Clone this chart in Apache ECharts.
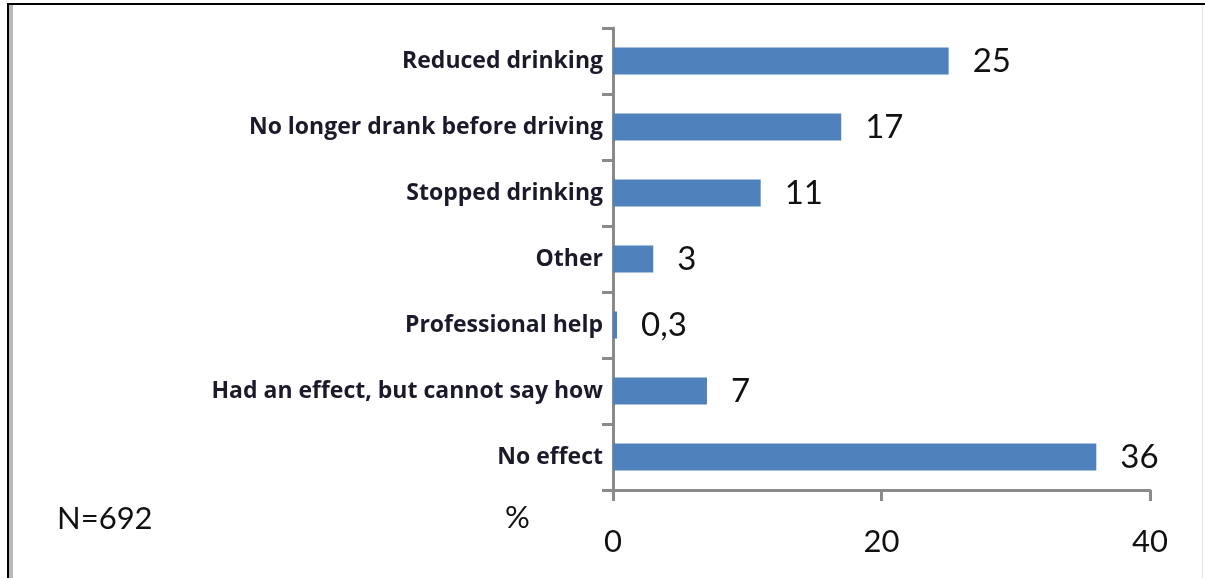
<!DOCTYPE html>
<html>
<head>
<meta charset="utf-8">
<script src="https://cdn.jsdelivr.net/npm/echarts@6/dist/echarts.min.js"></script>
<style>
  html, body { margin: 0; padding: 0; background: #fff; }
  #chart { width: 1205px; height: 578px; }
</style>
</head>
<body>
<div id="chart"></div>
<script>
// answers, top to bottom
const categories = [
  "Reduced drinking",
  "No longer drank before driving",
  "Stopped drinking",
  "Other",
  "Professional help",
  "Had an effect, but cannot say how",
  "No effect"
];
const percents = [25, 17, 11, 3, 0.3, 7, 36];
const xTicks = [0, 20, 40];
const sampleNote = "N=692";
const unitNote = "%";

const font = "Lato, 'Open Sans', sans-serif";
const labelFont = "'Open Sans', Lato, sans-serif";
const chart = echarts.init(document.getElementById("chart"));

const option = {
  animation: false,
  grid: {
    left: 613,
    right: 55,
    top: 28,
    bottom: 88
  },
  xAxis: {
    type: "value",
    min: xTicks[0],
    max: xTicks[xTicks.length - 1],
    interval: xTicks[1] - xTicks[0],
    axisLine: { show: true, lineStyle: { color: "#8a8a8a", width: 3 } },
    axisTick: { show: true, length: 11, lineStyle: { color: "#8a8a8a", width: 3 } },
    splitLine: { show: false },
    axisLabel: {
      margin: 36,
      color: "#111",
      fontFamily: font,
      fontSize: 31
    }
  },
  yAxis: {
    type: "category",
    inverse: true,
    data: categories,
    axisLine: { show: true, lineStyle: { color: "#8a8a8a", width: 3 } },
    axisTick: { show: true, length: 11, lineStyle: { color: "#8a8a8a", width: 3 } },
    axisLabel: {
      margin: 10,
      color: "#1a1a2a",
      fontFamily: labelFont,
      fontWeight: "bold",
      fontSize: 23,
      padding: [0, 0, 10, 0]
    }
  },
  series: [
    {
      type: "bar",
      data: percents,
      barWidth: 27,
      itemStyle: { color: "#4f81bd" },
      label: {
        show: true,
        position: "right",
        distance: 24,
        color: "#111",
        fontFamily: font,
        fontSize: 33,
        padding: [4, 0, 0, 0],
        formatter: p => String(p.value).replace(".", ",")
      }
    }
  ],
  graphic: [
    // frame
    { type: "rect", shape: { x: 7, y: 3, width: 1200, height: 2 }, style: { fill: "#000" } },
    { type: "rect", shape: { x: 7, y: 3, width: 2, height: 580 }, style: { fill: "#000" } },
    { type: "rect", shape: { x: 9, y: 5, width: 4, height: 580 }, style: { fill: "#b8b8b8" } },
    { type: "rect", shape: { x: 1202, y: 5, width: 1, height: 580 }, style: { fill: "#e2e2e2" } },
    {
      type: "text",
      left: 57,
      top: 503,
      style: { text: sampleNote, fill: "#111", font: "31px " + font }
    },
    {
      type: "text",
      left: 505,
      top: 502,
      style: { text: unitNote, fill: "#111", font: "31px " + font }
    }
  ]
};

chart.setOption(option);
</script>
</body>
</html>
